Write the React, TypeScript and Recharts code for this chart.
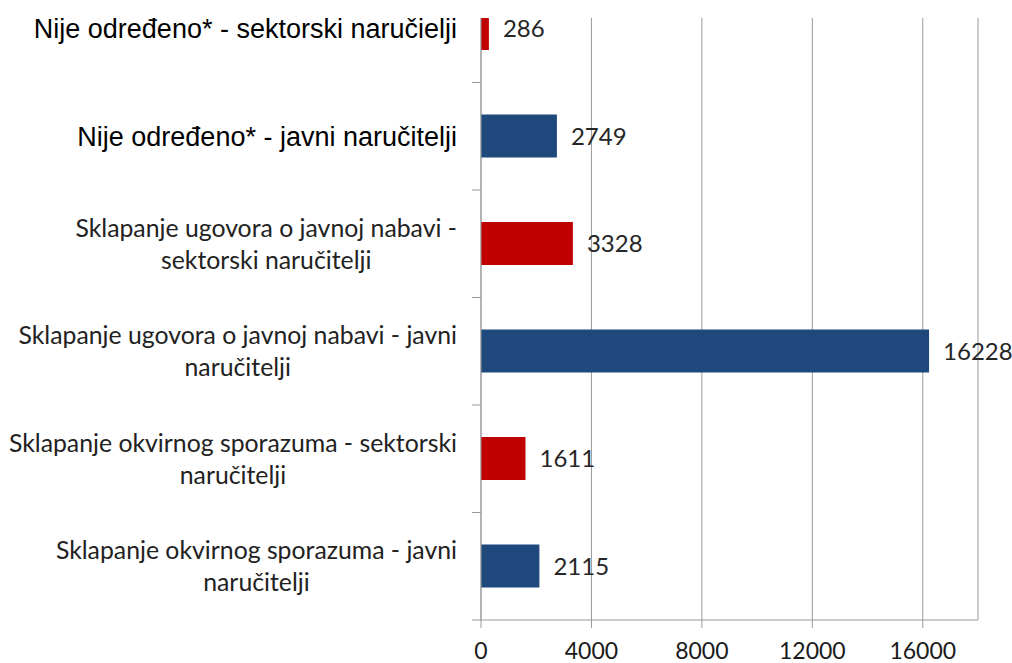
import React from 'react';
import { BarChart, Bar, XAxis, YAxis, CartesianGrid, Cell, LabelList } from 'recharts';

const categories = [
  'Nije određeno* - sektorski naručielji',
  'Nije određeno* - javni naručitelji',
  'Sklapanje ugovora o javnoj nabavi -\nsektorski naručitelji',
  'Sklapanje ugovora o javnoj nabavi - javni\nnaručitelji',
  'Sklapanje okvirnog sporazuma - sektorski\nnaručitelji',
  'Sklapanje okvirnog sporazuma - javni\nnaručitelji',
];
const values = [286, 2749, 3328, 16228, 1611, 2115];
const sectors = ['sektorski', 'javni', 'sektorski', 'javni', 'sektorski', 'javni'];
const xTicks = [0, 4000, 8000, 12000, 16000];
const xMax = 18000;

const sectorColors: Record<string, string> = { sektorski: '#C00000', javni: '#1F497D' };

const CHART_W = 1012;
const CHART_H = 695;
const X_AXIS_H = 50;
const Y_AXIS_W = 481;
const LABEL_GAP = 24;
const BAND = (CHART_H - X_AXIS_H) / categories.length;
const GRID = '#9a9a9a';
const CAL = 'Lato, "Open Sans", sans-serif';
const ARIAL = '"Liberation Sans", Arial, sans-serif';
const CAL_SIZE = 24.8;

let ctx: CanvasRenderingContext2D | null = null;
const measure = (text: string, font: string) => {
  if (!ctx) ctx = document.createElement('canvas').getContext('2d');
  if (!ctx) return text.length * 10;
  ctx.font = font;
  return ctx.measureText(text).width;
};

const CategoryTick = (props: any) => {
  const { x, y, payload } = props;
  const lines: string[] = String(payload.value).split('\n');
  const axisX = x + LABEL_GAP;
  const tick = <line x1={axisX - 9} x2={axisX} y1={y + BAND / 2} y2={y + BAND / 2} stroke={GRID} />;
  if (lines.length === 1) {
    return (
      <g>
        {tick}
        <text x={x} y={y} dy="0.36em" textAnchor="end" fontFamily={ARIAL} fontSize={27} fill="#000">
          {lines[0]}
        </text>
      </g>
    );
  }
  const w1 = measure(lines[0], `${CAL_SIZE}px Lato`);
  return (
    <g>
      {tick}
      <text x={x} y={y - 16} dy="0.36em" textAnchor="end" fontFamily={CAL} fontSize={CAL_SIZE} fill="#222">
        {lines[0]}
      </text>
      <text x={x - w1 / 2} y={y + 16} dy="0.36em" textAnchor="middle" fontFamily={CAL} fontSize={CAL_SIZE} fill="#222">
        {lines[1]}
      </text>
    </g>
  );
};

const data = categories.map((name, i) => ({ name, value: values[i], sector: sectors[i] }));

export default function App() {
  return (
    <div style={{ position: 'absolute', left: 0, top: 0, width: 1012, height: 663, overflow: 'hidden', background: '#fff' }}>
      <div style={{ position: 'absolute', left: 0, top: -25 }}>
        <BarChart
          width={CHART_W}
          height={CHART_H}
          data={data}
          layout="vertical"
          margin={{ top: 0, right: 34, bottom: 0, left: 0 }}
        >
          <CartesianGrid horizontal={false} vertical stroke={GRID} />
          <XAxis
            type="number"
            domain={[0, xMax]}
            ticks={xTicks}
            height={X_AXIS_H}
            stroke={GRID}
            tickSize={8}
            tickMargin={15}
            tick={{ fontFamily: CAL, fontSize: 23, fill: '#1a1a1a' }}
          />
          <YAxis
            type="category"
            dataKey="name"
            width={Y_AXIS_W}
            stroke={GRID}
            tickLine={false}
            tickSize={0}
            tickMargin={LABEL_GAP}
            interval={0}
            tick={<CategoryTick />}
          />
          <Bar dataKey="value" barSize={43} isAnimationActive={false}>
            {data.map((d, i) => (
              <Cell key={i} fill={sectorColors[d.sector]} />
            ))}
            <LabelList dataKey="value" position="right" offset={14} fontFamily={CAL} fontSize={24} fill="#262626" />
          </Bar>
        </BarChart>
      </div>
      {/* the original is cropped just above the plot area */}
      <div style={{ position: 'absolute', left: 470, top: 0, width: 542, height: 18, background: '#fff' }} />
    </div>
  );
}
